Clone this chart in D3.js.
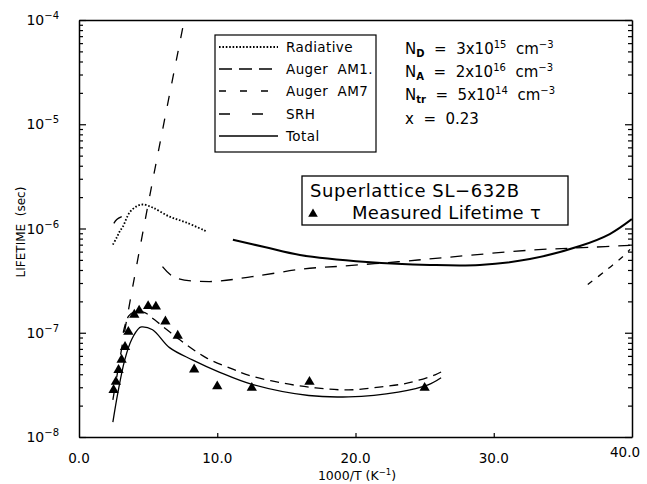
<!DOCTYPE html>
<html><head><meta charset="utf-8">
<script src="https://cdn.jsdelivr.net/npm/d3@7"></script>
<style>
body{margin:0;background:#fff}
svg{display:block}
text{font-family:"DejaVu Sans",sans-serif;fill:#000}
</style>
</head><body>
<svg id="c" width="647" height="484"></svg>
<script>
// ---------- data ----------
const xTickValues = [0, 10, 20, 30, 40];
const yDecades = [-8, -7, -6, -5, -4];

const measuredX   = [2.50, 2.67, 2.86, 3.08, 3.33, 3.57, 4.00, 4.35, 5.00, 5.56, 6.25, 7.14, 8.33, 10.0, 12.5, 16.67, 25.0];
const measuredTau = [2.83e-8, 3.38e-8, 4.4e-8, 5.5e-8, 7.3e-8, 1.02e-7, 1.49e-7, 1.63e-7, 1.80e-7, 1.78e-7, 1.28e-7, 9.35e-8, 4.45e-8, 3.06e-8, 2.96e-8, 3.38e-8, 2.96e-8];

const radiativeX   = [2.45, 2.73, 2.95, 3.17, 3.67, 4.17, 4.60, 5.32, 6.55, 7.77, 9.21];
const radiativeTau = [7.0e-7, 8.2e-7, 9.4e-7, 1.04e-6, 1.43e-6, 1.63e-6, 1.70e-6, 1.59e-6, 1.30e-6, 1.14e-6, 9.4e-7];

const upperTotalX   = [11.13, 13.5, 15.98, 20.82, 25.38, 28.99, 32.61, 36.23, 38.39, 39.99];
const upperTotalTau = [7.8e-7, 6.6e-7, 5.57e-7, 4.77e-7, 4.47e-7, 4.47e-7, 5.09e-7, 6.79e-7, 8.85e-7, 1.23e-6];

const upperArcX   = [2.52, 2.73, 3.09];
const upperArcTau = [1.12e-6, 1.22e-6, 1.30e-6];

const augerAM1X   = [6.04, 6.91, 9.42, 12.52, 16.26, 18.99, 23.09, 26.69, 32.66, 36.98, 39.86];
const augerAM1Tau = [4.3e-7, 3.4e-7, 3.1e-7, 3.45e-7, 4.1e-7, 4.35e-7, 4.8e-7, 5.3e-7, 6.2e-7, 6.6e-7, 6.9e-7];

const augerAM7X   = [36.8, 38.2, 39.35, 39.86];
const augerAM7Tau = [2.9e-7, 4.04e-7, 5.4e-7, 6.3e-7];

const srhX   = [2.45, 3.45, 5.25, 7.63];
const srhTau = [2.27e-8, 1.33e-7, 2.54e-6, 1.02e-4];

const totalX   = [2.45, 2.81, 3.31, 3.81, 4.39, 4.53, 5.32, 6.55, 8.20, 10.14, 12.52, 16.62, 19.50, 23.09, 25.25, 26.19];
const totalTau = [1.39e-8, 2.65e-8, 5.5e-8, 8.6e-8, 1.12e-7, 1.14e-7, 1.07e-7, 7.2e-8, 5.5e-8, 4.2e-8, 3.2e-8, 2.5e-8, 2.43e-8, 2.7e-8, 3.16e-8, 3.7e-8];

const totalDashedX   = [3.2, 3.6, 4.2, 4.8, 5.47, 7.27, 9.21, 11.08, 12.30, 14.68, 17.12, 19.50, 21.87, 23.81, 25.76, 26.19];
const totalDashedTau = [1.0e-7, 1.45e-7, 1.62e-7, 1.55e-7, 1.33e-7, 8.6e-8, 5.75e-8, 4.5e-8, 3.9e-8, 3.3e-8, 2.96e-8, 2.83e-8, 3.03e-8, 3.3e-8, 3.95e-8, 4.2e-8];

const legendLabels = ["Radiative", "Auger  AM1.", "Auger  AM7", "SRH", "Total"];

// ---------- layout ----------
const svg = d3.select("#c");
const L = 79, R = 632, T = 20, B = 437;
const x = d3.scaleLinear().domain([0, 40]).range([L, R]);
const y = d3.scaleLog().domain([1e-8, 1e-4]).range([B, T]);

svg.append("defs").append("clipPath").attr("id", "clip")
  .append("rect").attr("x", L).attr("y", T).attr("width", R - L).attr("height", B - T);

const minorVals = [];
yDecades.forEach(d => { for (let m = 1; m <= 9; m++) { const v = m * Math.pow(10, d); if (v <= 1e-4 * 1.0001) minorVals.push(v); } });
const isMajor = v => Math.abs(Math.log10(v) - Math.round(Math.log10(v))) < 1e-6;

function styleAxis(g) {
  g.select(".domain").attr("stroke", "#000").attr("stroke-width", 1.5);
  g.selectAll(".tick line").attr("stroke", "#000").attr("stroke-width", 1.2);
  g.selectAll(".tick text").remove();
}

const gl = svg.append("g").attr("transform", `translate(${L},0)`)
  .call(d3.axisLeft(y).tickValues(minorVals).tickSizeOuter(0).tickSizeInner(-4).tickFormat(""));
styleAxis(gl);
gl.selectAll(".tick line").attr("x2", d => isMajor(d) ? 7 : 4);

const gr = svg.append("g").attr("transform", `translate(${R},0)`)
  .call(d3.axisRight(y).tickValues(minorVals).tickSizeOuter(0).tickSizeInner(-4).tickFormat(""));
styleAxis(gr);
gr.selectAll(".tick line").attr("x2", d => isMajor(d) ? -7 : -4);

const gb = svg.append("g").attr("transform", `translate(0,${B})`)
  .call(d3.axisBottom(x).tickValues(xTickValues.slice(1, -1)).tickSizeOuter(0).tickSizeInner(-4).tickFormat(""));
styleAxis(gb);

const gt = svg.append("g").attr("transform", `translate(0,${T})`)
  .call(d3.axisTop(x).tickValues([]).tickSizeOuter(0));
styleAxis(gt);

// y tick labels
yDecades.forEach(d => {
  const t = svg.append("text").attr("x", 59).attr("y", y(Math.pow(10, d)) + 5)
    .attr("text-anchor", "end").attr("font-size", 14);
  t.append("tspan").text("10");
  t.append("tspan").attr("dy", -6).attr("font-size", 10).text("\u2212" + Math.abs(d));
});

// x tick labels
xTickValues.forEach((v, i) => {
  const last = i === xTickValues.length - 1;
  svg.append("text").attr("x", x(v) - (last ? 7 : 0)).attr("y", 463 - (last ? 6 : 0))
    .attr("text-anchor", "middle").attr("font-size", 13.5).text(d3.format(".1f")(v));
});

// axis titles
const xt = svg.append("text").attr("x", 357).attr("y", 480).attr("text-anchor", "middle").attr("font-size", 12.5);
xt.append("tspan").text("1000/T  (K");
xt.append("tspan").attr("dy", -5).attr("font-size", 8.5).text("\u22121");
xt.append("tspan").attr("dy", 5).text(")");

svg.append("text").attr("transform", "translate(25,232) rotate(-90)")
  .attr("text-anchor", "middle").attr("font-size", 12).attr("style", "white-space:pre").text("LIFETIME  (sec)");

// ---------- curves ----------
const line = d3.line().x(d => x(d[0])).y(d => y(d[1])).curve(d3.curveCatmullRom.alpha(0.5));
const plot = svg.append("g").attr("clip-path", "url(#clip)");
function curve(xs, ys, dash, w) {
  plot.append("path").datum(xs.map((v, i) => [v, ys[i]]))
    .attr("d", line).attr("fill", "none").attr("stroke", "#000")
    .attr("stroke-width", w).attr("stroke-dasharray", dash);
}
curve(radiativeX, radiativeTau, "1.6,1.8", 1.8);
curve(upperTotalX, upperTotalTau, null, 2);
curve(upperArcX, upperArcTau, null, 1.3);
curve(augerAM1X, augerAM1Tau, "12,9", 1.3);
curve(augerAM7X, augerAM7Tau, "6,7", 1.3);
curve(srhX, srhTau, "10,13", 1.3);
curve(totalX, totalTau, null, 1.3);
curve(totalDashedX, totalDashedTau, "9,6", 1.3);

// measured triangles
const tri = d3.symbol().type(d3.symbolTriangle).size(46);
svg.append("g").selectAll("path").data(measuredX.map((v, i) => [v, measuredTau[i]])).join("path")
  .attr("d", tri).attr("transform", d => `translate(${x(d[0])},${y(d[1])})`).attr("fill", "#000");

// ---------- legend ----------
svg.append("rect").attr("x", 215).attr("y", 35).attr("width", 161).attr("height", 117)
  .attr("fill", "#fff").attr("stroke", "#000").attr("stroke-width", 1.2);
const legStyles = [["1.6,1.8", 1.8], ["13,7", 1.3], ["7,14", 1.3], ["11,22", 1.3], [null, 1.3]];
const rowY = [47, 69, 91, 114, 136];
legendLabels.forEach((lab, i) => {
  svg.append("line").attr("x1", 219).attr("x2", 278).attr("y1", rowY[i]).attr("y2", rowY[i])
    .attr("stroke", "#000").attr("stroke-width", legStyles[i][1]).attr("stroke-dasharray", legStyles[i][0]);
  svg.append("text").attr("x", 286).attr("y", rowY[i] + 5).attr("font-size", 13.5)
    .attr("letter-spacing", 0.4).attr("style", "white-space:pre").text(lab);
});

// parameters
const params = [
  ["N", "D", "  =  3x10", "15", "  cm", "\u22123"],
  ["N", "A", "  =  2x10", "16", "  cm", "\u22123"],
  ["N", "tr", "  =  5x10", "14", "  cm", "\u22123"]
];
const pY = [54, 77, 100];
params.forEach((p, i) => {
  const t = svg.append("text").attr("x", 405).attr("y", pY[i]).attr("font-size", 15).attr("style", "white-space:pre");
  t.append("tspan").text(p[0]);
  t.append("tspan").attr("dy", 3).attr("font-size", 10).attr("font-weight", "bold").text(p[1]);
  t.append("tspan").attr("dy", -3).text(p[2]);
  t.append("tspan").attr("dy", -6).attr("font-size", 10).text(p[3]);
  t.append("tspan").attr("dy", 6).text(p[4]);
  t.append("tspan").attr("dy", -6).attr("font-size", 10).text(p[5]);
});
svg.append("text").attr("x", 405).attr("y", 124).attr("font-size", 15).attr("style", "white-space:pre").text("x  =  0.23");

// sample box
svg.append("rect").attr("x", 302).attr("y", 176).attr("width", 266).attr("height", 49)
  .attr("fill", "#fff").attr("stroke", "#000").attr("stroke-width", 1.3);
svg.append("text").attr("x", 310).attr("y", 197).attr("font-size", 18).attr("letter-spacing", 0.6)
  .attr("style", "white-space:pre").text("Superlattice SL\u2212632B");
svg.append("path").attr("d", d3.symbol().type(d3.symbolTriangle).size(40)())
  .attr("transform", "translate(313,214)").attr("fill", "#000");
svg.append("text").attr("x", 352).attr("y", 219).attr("font-size", 18).attr("letter-spacing", 0.3)
  .attr("style", "white-space:pre").text("Measured Lifetime \u03c4");
</script>
</body></html>
